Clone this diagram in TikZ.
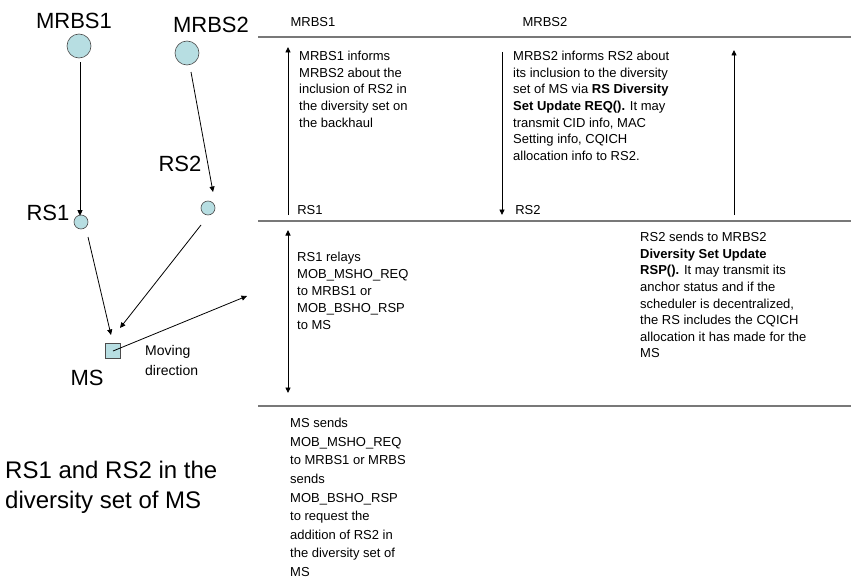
\documentclass[tikz,border=0pt]{standalone}
\usepackage{fontspec}
\setmainfont{Liberation Sans}
\usetikzlibrary{arrows.meta}
\definecolor{nodefill}{RGB}{183,222,226}
\definecolor{rulegray}{RGB}{120,120,120}
\begin{document}
\begin{tikzpicture}[x=1pt,y=-1pt,
  tip/.style={-{Triangle[length=5.5pt,width=5pt]}},
  dtip/.style={{Triangle[length=5.5pt,width=5pt]}-{Triangle[length=5.5pt,width=5pt]}},
  conn/.style={tip, line width=0.8pt},
  station/.style={circle, draw=black!70, fill=nodefill, line width=0.6pt, inner sep=0pt},
  bigstation/.style={station, minimum size=24pt},
  smallstation/.style={station, minimum size=14pt},
  biglabel/.style={font=\fontsize{22}{24}\selectfont, inner sep=0pt},
  small/.style={font=\fontsize{13}{15}\selectfont, inner sep=0pt},
  block/.style={font=\fontsize{13}{16.6}\selectfont, inner sep=0pt, anchor=north west, align=left},
  rulel/.style={draw=rulegray, line width=1.3pt},
  vline/.style={line width=0.9pt}
]
\useasboundingbox (0,0) rectangle (851,586);

% left diagram
\node[biglabel] (l1) at (74,21) {MRBS1};
\node[bigstation] (mrbs1) at (79,46) {};
\node[biglabel] (l2) at (211,25) {MRBS2};
\node[bigstation] (mrbs2) at (187,53) {};
\node[biglabel] (l3) at (180,164) {RS2};
\node[smallstation] (rs2) at (208,208) {};
\node[biglabel] (l4) at (48,213) {RS1};
\node[smallstation] (rs1) at (81,222) {};
\node[draw=black!70, fill=nodefill, line width=0.6pt, minimum size=15pt, inner sep=0pt] (ms) at (113,351) {};
\node[biglabel] (l5) at (87,378) {MS};
\node[inner sep=0pt, anchor=north west, align=left, font=\fontsize{14}{20}\selectfont] (mov) at (145,345) {Moving\\direction};
\coordinate (movend) at (247,296);
\node[inner sep=0pt, anchor=north west, align=left, font=\fontsize{24}{30}\selectfont] (cap) at (5,461) {RS1 and RS2 in the\\diversity set of MS};

\draw[conn] (mrbs1.south) ++(1,4) -- ([yshift=-1pt]rs1.north -| 80,0);
\draw[conn] (191,72) -- (213,192);
\draw[conn] (88,237) -- (111,335);
\draw[conn] (201,225) -- (120,328);
\draw[conn] (ms.center) -- (movend);

% right side
\coordinate (r1a) at (258,37); \coordinate (r1b) at (851,37);
\coordinate (r2a) at (258,221); \coordinate (r2b) at (851,221);
\coordinate (r3a) at (258,406); \coordinate (r3b) at (851,406);
\draw[rulel] (r1a) -- (r1b);
\draw[rulel] (r2a) -- (r2b);
\draw[rulel] (r3a) -- (r3b);

\node[small] (t1) at (313,22) {MRBS1};
\node[small] (t2) at (545,22) {MRBS2};
\node[small] (b1) at (310,210) {RS1};
\node[small] (b2) at (528,210) {RS2};

\coordinate (a1s) at (288,215); \coordinate (a1e) at (288,47);
\coordinate (a2s) at (502,52); \coordinate (a2e) at (502,215);
\coordinate (a3s) at (734,215); \coordinate (a3e) at (734,50);
\coordinate (a4s) at (288,230); \coordinate (a4e) at (288,393);
\draw[vline, tip] (a1s) -- (a1e);
\draw[vline, tip] (a2s) -- (a2e);
\draw[vline, tip] (a3s) -- (a3e);
\draw[vline, dtip] (a4s) -- (a4e);

\node[block] (A) at (299,51) {MRBS1 informs\\MRBS2 about the\\inclusion of RS2 in\\the diversity set on\\the backhaul};
\node[block] (B) at (513,51) {MRBS2 informs RS2 about\\its inclusion to the diversity\\set of MS via \textbf{RS Diversity}\\\textbf{Set Update REQ().} It may\\transmit CID info, MAC\\Setting info, CQICH\\allocation info to RS2.};
\node[block] (C) at (640,232) {RS2 sends to MRBS2\\\textbf{Diversity Set Update}\\\textbf{RSP().} It may transmit its\\anchor status and if the\\scheduler is decentralized,\\the RS includes the CQICH\\allocation it has made for the\\MS};
\node[block, font=\fontsize{13}{17}\selectfont] (D) at (297,252) {RS1 relays\\MOB\_MSHO\_REQ\\to MRBS1 or\\MOB\_BSHO\_RSP\\to MS};
\node[block, font=\fontsize{13}{18.6}\selectfont] (E) at (290,418) {MS sends\\MOB\_MSHO\_REQ\\to MRBS1 or MRBS\\sends\\MOB\_BSHO\_RSP\\to request the\\addition of RS2 in\\the diversity set of\\MS};
\end{tikzpicture}
\end{document}
